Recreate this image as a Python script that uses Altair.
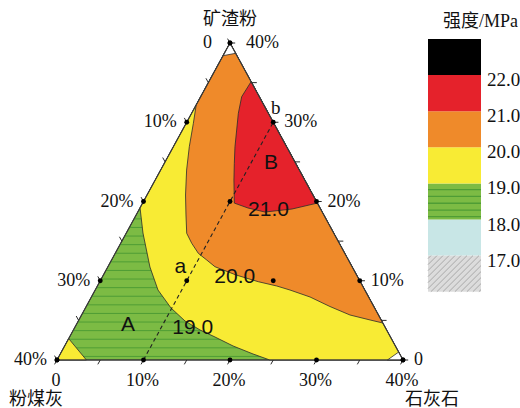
import altair as alt
import numpy as np
import pandas as pd

# ---------------- data (ternary compositions, % of binder; fly ash = 40 - L - S) -------------
# limestone (石灰石) = L, slag (矿渣粉) = S
TRI_L = [0, 40, 0, 0]
TRI_S = [0, 0, 40, 0]

# 19.0 MPa contour (green | yellow)
C19_L = [0.0, 1.93, 4.88, 7.26, 9.9, 12.34, 14.64, 16.82, 19.47, 22.28, 24.6]
C19_S = [19.2, 16.02, 11.73, 8.83, 6.56, 4.92, 3.79, 2.90, 1.77, 0.76, 0.0]
# 20.0 MPa contour (yellow | orange)
C20_L = [0.0, 0.83, 1.84, 3.0, 4.45, 5.76, 7.0, 8.21, 9.61, 11.0, 12.38, 15.33, 18.33,
         20.73, 22.52, 25.28, 28.18, 31.03, 33.67, 35.33]
C20_S = [32.18, 29.87, 26.91, 23.97, 20.82, 18.30, 15.99, 14.73, 13.46, 12.62, 11.77, 10.73,
         9.88, 9.34, 8.83, 7.95, 6.75, 5.68, 5.05, 4.67]
# 21.0 MPa contour (orange | red)
C21_L = [4.88, 4.74, 5.40, 6.26, 7.12, 8.09, 9.10, 10.6, 12.49, 14.71, 17.64, 20.2]
C21_S = [35.12, 33.22, 31.13, 29.02, 26.91, 24.82, 22.71, 19.8, 19.18, 18.67, 19.05, 19.8]
# small yellow patch at fly-ash corner, blank corners
YC_L = [0, 3.4, 0, 0]
YC_S = [0, 0, 2.7, 0]
WA_L = [0, 1.3, 0, 0]
WA_S = [40, 38.7, 38.4, 40]
WB_L = [40, 38.2, 39.0, 40]
WB_S = [0, 0, 1.0, 0]

# test mixes on the dashed line (limestone = 10 %)
DASH_L = [10, 10]
DASH_S = [0, 30]
INNER_L = [10, 10, 20]
INNER_S = [20, 10, 10]

AXIS_VALUES = [0, 10, 20, 30, 40]
MINOR_VALUES = [0, 5, 10, 15, 20, 25, 30, 35, 40]

ANN_TEXT = ["A", "B", "a", "21.0", "20.0", "19.0"]
ANN_L = [6.0, 12.3, 8.4, 15.0, 15.3, 13.7]
ANN_S = [4.4, 24.9, 11.7, 18.9, 10.5, 4.0]

LEG_LO = [16, 17, 18, 19, 20, 21, 22]
LEG_COLORS = ["#dcdcdc", "#c8e6e6", "#7cbb44", "#f8eb34", "#ef8a2a", "#e5222b", "#000000"]
LEG_LABELS = [17, 18, 19, 20, 21, 22]
LEG_GREEN_LINES = [18.08, 18.26, 18.45, 18.64, 18.83]

YELLOW = "#f8eb34"
ORANGE = "#ef8a2a"
RED = "#e5222b"
GREEN = "#7cbb44"
HATCH = "#4f9d35"
EDGE = "#2b2b2b"

# ---------------- scales ----------------
XS = alt.Scale(domain=[0, 40], range=[57, 403], nice=False, zero=False)
YS = alt.Scale(domain=[0, 40], range=[360, 43], nice=False, zero=False)
X = lambda f: alt.X(f, type="quantitative", scale=XS, axis=None)
Y = lambda f: alt.Y(f, type="quantitative", scale=YS, axis=None)


def poly_rows(name, Ls, Ss):
    return [dict(poly=name, i=i, L=l, S=s) for i, (l, s) in enumerate(zip(Ls, Ss))]


rows = []
rows += poly_rows("tri", TRI_L, TRI_S)
rows += poly_rows("yellow", C19_L + [40, 0, C19_L[0]], C19_S + [0, 40, C19_S[0]])
rows += poly_rows("ycorner", YC_L, YC_S)
rows += poly_rows("orange", C20_L + [0, C20_L[0]], C20_S + [40, C20_S[0]])
rows += poly_rows("red", C21_L + [C21_L[0]], C21_S + [C21_S[0]])
rows += poly_rows("wa", WA_L, WA_S)
rows += poly_rows("wb", WB_L, WB_S)
rows += poly_rows("dash", DASH_L, DASH_S)
poly_df = pd.DataFrame(rows)

pbase = alt.Chart(poly_df).transform_calculate(x="datum.L + datum.S / 2", y="datum.S")


def poly_layer(name, fill, stroke=EDGE, sw=0.8):
    return pbase.transform_filter(alt.datum.poly == name).mark_line(
        fill=fill, stroke=stroke, strokeWidth=sw, strokeJoin="round"
    ).encode(x=X("x"), y=Y("y"), order="i:Q")


# hatch texture for the 18-19 MPa band (horizontal lines clipped to triangle)
hatch_s = np.arange(0.45, 20.5, 1.085)
hatch_df = pd.DataFrame({"S": hatch_s, "x1": hatch_s / 2, "x2": 40 - hatch_s / 2})
hatch = alt.Chart(hatch_df).mark_rule(color=HATCH, strokeWidth=1).encode(
    x=X("x1"), x2="x2:Q", y=Y("S"))

# ticks on the three sides (direction of the grid lines, outward)
tick_rows = []
for v in MINOR_VALUES:
    s = 40 - v
    tick_rows.append(dict(x=s / 2, y=s, x2=s / 2 - 0.28, y2=s + 0.55))
    tick_rows.append(dict(x=v, y=0, x2=v - 0.28, y2=-0.55))
    tick_rows.append(dict(x=40 - v / 2, y=v, x2=40 - v / 2 + 0.6, y2=v))
ticks = alt.Chart(pd.DataFrame(tick_rows)).mark_rule(color=EDGE, strokeWidth=1).encode(
    x=X("x"), y=Y("y"), x2="x2:Q", y2="y2:Q")

dot_rows = []
for v in AXIS_VALUES:
    dot_rows.append(dict(x=(40 - v) / 2, y=40 - v))
    dot_rows.append(dict(x=v, y=0))
    dot_rows.append(dict(x=40 - v / 2, y=v))
for l, s in zip(INNER_L, INNER_S):
    dot_rows.append(dict(x=l + s / 2, y=s))
dots = alt.Chart(pd.DataFrame(dot_rows)).mark_point(
    filled=True, color="#000000", size=24, opacity=1).encode(x=X("x"), y=Y("y"))


def pct(v):
    return "0" if v == 0 else f"{v}%"


SERIF = "Liberation Serif"
SANS = "Liberation Sans"
CJK = "Noto Sans CJK SC"
FS = 18

left_df = pd.DataFrame({"v": [10, 20, 30, 40]})
left_df["x"] = (40 - left_df.v) / 2
left_df["y"] = 40 - left_df.v
left_df["t"] = [pct(v) for v in left_df.v]
left_lab = alt.Chart(left_df).mark_text(font=SERIF, fontSize=FS, align="right", baseline="middle",
                                        dx=-10, color="#111").encode(x=X("x"), y=Y("y"), text="t:N")
apex0 = alt.Chart(pd.DataFrame({"x": [20], "y": [40], "t": ["0"]})).mark_text(
    font=SERIF, fontSize=FS, align="right", baseline="middle", dx=-18, color="#111").encode(
    x=X("x"), y=Y("y"), text="t:N")

right_df = pd.DataFrame({"v": [0, 10, 20, 30]})
right_df["x"] = 40 - right_df.v / 2
right_df["y"] = right_df.v
right_df["t"] = [pct(v) for v in right_df.v]
right_lab = alt.Chart(right_df).mark_text(font=SERIF, fontSize=FS, align="left", baseline="middle",
                                          dx=11, color="#111").encode(x=X("x"), y=Y("y"), text="t:N")
apex40 = alt.Chart(pd.DataFrame({"x": [20], "y": [40], "t": ["40%"]})).mark_text(
    font=SERIF, fontSize=FS, align="left", baseline="middle", dx=16, color="#111").encode(
    x=X("x"), y=Y("y"), text="t:N")

bot_df = pd.DataFrame({"v": AXIS_VALUES})
bot_df["x"] = bot_df.v
bot_df["y"] = 0
bot_df["t"] = [pct(v) for v in bot_df.v]
bot_lab = alt.Chart(bot_df).mark_text(font=SERIF, fontSize=FS, align="center", baseline="middle",
                                      dy=21, dx=-1, color="#111").encode(x=X("x"), y=Y("y"), text="t:N")

ann_df = pd.DataFrame({"t": ANN_TEXT, "L": ANN_L, "S": ANN_S})
ann_df["x"] = ann_df.L + ann_df.S / 2
ann_df["y"] = ann_df.S
ann = alt.Chart(ann_df).mark_text(font=SANS, fontSize=21, align="center", baseline="middle",
                                  color="#111").encode(x=X("x"), y=Y("y"), text="t:N")
b_lab = alt.Chart(pd.DataFrame({"x": [9.4 + 31.8 / 2], "y": [31.8], "t": ["b"]})).mark_text(
    font=SERIF, fontSize=19, align="center", baseline="middle", color="#111").encode(
    x=X("x"), y=Y("y"), text="t:N")


def title(txt, x, y, align="center", size=18):
    return alt.Chart(pd.DataFrame({"t": [txt]})).mark_text(
        font=f"{SERIF}, {CJK}", fontSize=size, align=align, baseline="middle", color="#111").encode(
        x=alt.value(x), y=alt.value(y), text="t:N")


tern = alt.layer(
    poly_layer("tri", GREEN, stroke=EDGE, sw=1),
    hatch,
    poly_layer("yellow", YELLOW),
    poly_layer("ycorner", YELLOW),
    poly_layer("orange", ORANGE),
    poly_layer("red", RED),
    poly_layer("wa", "#ffffff"),
    poly_layer("wb", "#ffffff"),
    pbase.transform_filter(alt.datum.poly == "tri").mark_line(
        stroke="#3a3a3a", strokeWidth=1.1).encode(x=X("x"), y=Y("y"), order="i:Q"),
    pbase.transform_filter(alt.datum.poly == "dash").mark_line(
        stroke="#222222", strokeWidth=1.1, strokeDash=[4, 3]).encode(x=X("x"), y=Y("y"), order="i:Q"),
    ticks,
    dots,
    left_lab, apex0, right_lab, apex40, bot_lab,
    ann, b_lab,
    title("矿渣粉", 230, 20),
    title("粉煤灰", 36, 400),
    title("石灰石", 432, 400),
    title("强度/MPa", 443, 22, align="left", size=18),
)

# ---------------- legend (colour bar) ----------------
LXS = alt.Scale(domain=[0, 1], range=[428, 481], nice=False, zero=False)
LYS = alt.Scale(domain=[16, 23], range=[291.7, 39], nice=False, zero=False)
LX = lambda f: alt.X(f, type="quantitative", scale=LXS, axis=None)
LY = lambda f: alt.Y(f, type="quantitative", scale=LYS, axis=None)

leg_df = pd.DataFrame({"lo": LEG_LO, "hi": [v + 1 for v in LEG_LO], "c": LEG_COLORS,
                       "x0": 0, "x1": 1})
leg_boxes = alt.Chart(leg_df).mark_rect().encode(
    x=LX("x0"), x2="x1:Q", y=LY("lo"), y2="hi:Q",
    fill=alt.Fill("c:N", scale=None))
leg_green = alt.Chart(pd.DataFrame({"v": LEG_GREEN_LINES, "x0": 0, "x1": 1})).mark_rule(
    color=HATCH, strokeWidth=1.3).encode(x=LX("x0"), x2="x1:Q", y=LY("v"))

# diagonal hatch for the grey (16-17) box, clipped to the box
W, H = 53.0, 36.1
grey_rows = []
for c in np.arange(-H + 3, W, 6.0):
    v0 = max(0.0, -c)
    v1 = min(H, W - c)
    if v1 > v0:
        grey_rows.append(dict(x=(v0 + c) / W, y=16 + v0 / H, x2=(v1 + c) / W, y2=16 + v1 / H))
leg_grey = alt.Chart(pd.DataFrame(grey_rows)).mark_rule(
    color="#9a9a9a", strokeWidth=0.8).encode(x=LX("x"), y=LY("y"), x2="x2:Q", y2="y2:Q")

lab_df = pd.DataFrame({"v": LEG_LABELS, "x": 1})
lab_df["t"] = [f"{v:.1f}" for v in LEG_LABELS]
leg_labels = alt.Chart(lab_df).mark_text(font=SERIF, fontSize=19, align="left", baseline="middle",
                                         dx=6, dy=5, color="#111").encode(
    x=LX("x"), y=LY("v"), text="t:N")

legend = alt.layer(leg_boxes, leg_green, leg_grey, leg_labels)

chart = alt.layer(tern, legend).resolve_scale(x="independent", y="independent").properties(
    width=520, height=408, padding=0,
    autosize=alt.AutoSizeParams(type="none"),
    background="#ffffff",
).configure_view(stroke=None)

chart.save("out.html", embed_options={"renderer": "svg", "actions": False})
